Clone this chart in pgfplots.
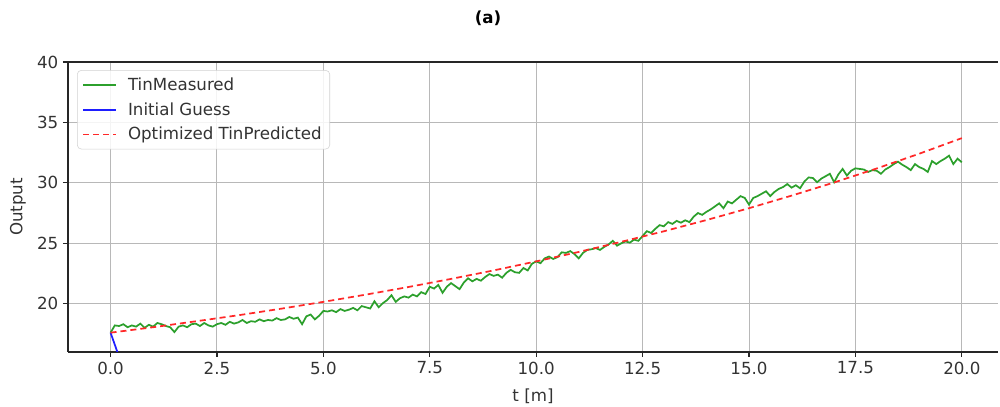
\documentclass[border=0pt]{standalone}
\usepackage{pgfplots}
\pgfplotsset{compat=1.18}
\usepackage{fontspec}
\setmainfont{DejaVu Sans}
\definecolor{mgreen}{RGB}{44,160,44}
\definecolor{mblue}{RGB}{30,30,255}
\definecolor{mred}{RGB}{255,40,40}
\pgfplotstableread{
t v
0.0 17.60
0.1 18.20
0.2 18.15
0.3 18.30
0.4 18.05
0.5 18.20
0.6 18.10
0.7 18.35
0.8 18.00
0.9 18.25
1.0 18.10
1.1 18.40
1.2 18.30
1.3 18.15
1.4 18.05
1.5 17.65
1.6 18.10
1.7 18.20
1.8 18.05
1.9 18.30
2.0 18.35
2.1 18.15
2.2 18.40
2.3 18.20
2.4 18.10
2.5 18.30
2.6 18.40
2.7 18.25
2.8 18.50
2.9 18.35
3.0 18.45
3.1 18.65
3.2 18.40
3.3 18.55
3.4 18.50
3.5 18.70
3.6 18.55
3.7 18.65
3.8 18.60
3.9 18.80
4.0 18.65
4.1 18.70
4.2 18.90
4.3 18.75
4.4 18.85
4.5 18.30
4.6 18.95
4.7 19.10
4.8 18.70
4.9 19.00
5.0 19.40
5.1 19.35
5.2 19.45
5.3 19.30
5.4 19.55
5.5 19.40
5.6 19.50
5.7 19.65
5.8 19.45
5.9 19.80
6.0 19.70
6.1 19.60
6.2 20.20
6.3 19.70
6.4 20.05
6.5 20.30
6.6 20.70
6.7 20.15
6.8 20.45
6.9 20.60
7.0 20.50
7.1 20.75
7.2 20.60
7.3 20.95
7.4 20.80
7.5 21.40
7.6 21.25
7.7 21.55
7.8 20.90
7.9 21.40
8.0 21.70
8.1 21.45
8.2 21.20
8.3 21.75
8.4 22.10
8.5 21.85
8.6 22.05
8.7 21.90
8.8 22.20
8.9 22.45
9.0 22.30
9.1 22.40
9.2 22.15
9.3 22.55
9.4 22.80
9.5 22.60
9.6 22.55
9.7 22.95
9.8 22.75
9.9 23.30
10.0 23.50
10.1 23.35
10.2 23.75
10.3 23.90
10.4 23.70
10.5 23.85
10.6 24.25
10.7 24.20
10.8 24.35
10.9 24.10
11.0 23.75
11.1 24.20
11.2 24.45
11.3 24.50
11.4 24.60
11.5 24.45
11.6 24.70
11.7 24.90
11.8 25.20
11.9 24.80
12.0 25.00
12.1 25.15
12.2 25.05
12.3 25.30
12.4 25.20
12.5 25.60
12.6 26.00
12.7 25.85
12.8 26.20
12.9 26.50
13.0 26.40
13.1 26.75
13.2 26.60
13.3 26.85
13.4 26.70
13.5 26.90
13.6 26.75
13.7 27.20
13.8 27.50
13.9 27.35
14.0 27.60
14.1 27.80
14.2 28.05
14.3 28.30
14.4 27.90
14.5 28.45
14.6 28.30
14.7 28.60
14.8 28.90
14.9 28.75
15.0 28.20
15.1 28.75
15.2 28.90
15.3 29.10
15.4 29.30
15.5 28.90
15.6 29.25
15.7 29.50
15.8 29.65
15.9 29.90
16.0 29.60
16.1 29.80
16.2 29.55
16.3 30.10
16.4 30.45
16.5 30.40
16.6 30.05
16.7 30.35
16.8 30.55
16.9 30.75
17.0 30.05
17.1 30.70
17.2 31.15
17.3 30.60
17.4 31.00
17.5 31.20
17.6 31.15
17.7 31.10
17.8 30.90
17.9 31.05
18.0 31.00
18.1 30.75
18.2 31.10
18.3 31.30
18.4 31.55
18.5 31.75
18.6 31.50
18.7 31.30
18.8 31.05
18.9 31.55
19.0 31.30
19.1 31.15
19.2 30.90
19.3 31.80
19.4 31.55
19.5 31.80
19.6 32.00
19.7 32.25
19.8 31.55
19.9 32.00
20.0 31.70
}\measured
\pgfplotstableread{
t v
0 17.60
1 18.05
2 18.54
3 19.04
4 19.58
5 20.15
6 20.75
7 21.38
8 22.05
9 22.75
10 23.50
11 24.28
12 25.12
13 25.99
14 26.92
15 27.90
16 28.94
17 30.03
18 31.19
19 32.41
20 33.70
}\predicted
\begin{document}
\begin{tikzpicture}
\begin{axis}[
  name=ax,
  at={(0,0)}, anchor=south west,
  scale only axis, width=697.5pt, height=217.5pt,
  xmin=-1, xmax=20.85, ymin=16, ymax=40,
  axis x line*=bottom, axis y line*=left,
  axis line style={black!85, line width=0.9pt},
  xtick={0,2.5,...,20}, ytick={20,25,30,35,40},
  tick align=outside, major tick length=3.75pt,
  tick style={black!85, line width=0.8pt},
  grid=major, grid style={black!28, line width=0.75pt},
  /pgf/number format/assume math mode=true,
  xticklabel style={/pgf/number format/.cd, fixed, fixed zerofill, precision=1},
  yticklabel style={/pgf/number format/.cd, fixed, precision=0},
  tick label style={font=\fontsize{12.5}{15}\selectfont, text=black!80},
  xlabel={t [m]}, ylabel={Output},
  every axis x label/.style={at={(axis description cs:0.5,-0.1517)}, anchor=center, font=\fontsize{12.5}{15}\selectfont, text=black!80},
  every axis y label/.style={at={(axis description cs:-0.0538,0.5)}, rotate=90, anchor=center, font=\fontsize{12.5}{15}\selectfont, text=black!80},
  legend style={at={(0.0097,0.972)}, anchor=north west, draw=black!18,
    rounded corners=3pt, fill=white, fill opacity=0.85, text opacity=1,
    font=\fontsize{12.5}{15}\selectfont, text=black!80, row sep=3.5pt,
    column sep=6pt, inner xsep=4pt, inner ysep=3.5pt},
  legend cell align=left,
  legend image post style={xscale=1.45, line width=1.3pt},
]
\addplot[mgreen, line width=1.3pt] table[x=t, y=v] {\measured};
\addlegendentry{TinMeasured}
\addplot[mblue, line width=1.3pt] coordinates {(0,17.6) (0.2,15.6) (0.5,12.5)};
\addlegendentry{Initial Guess}
\addplot[mred, line width=1.3pt, dashed, dash pattern=on 4.5pt off 3pt] table[x=t, y=v] {\predicted};
\addlegendentry{Optimized TinPredicted}
\end{axis}
\draw[black!85, line width=0.9pt] (ax.north west) -- (ax.north east);
\node[font=\bfseries\fontsize{12.5}{15}\selectfont] at (315pt,250.5pt) {(a)};
\pgfresetboundingbox
\path[use as bounding box] (-51pt,-41.25pt) rectangle (699pt,264pt);
\end{tikzpicture}
\end{document}
